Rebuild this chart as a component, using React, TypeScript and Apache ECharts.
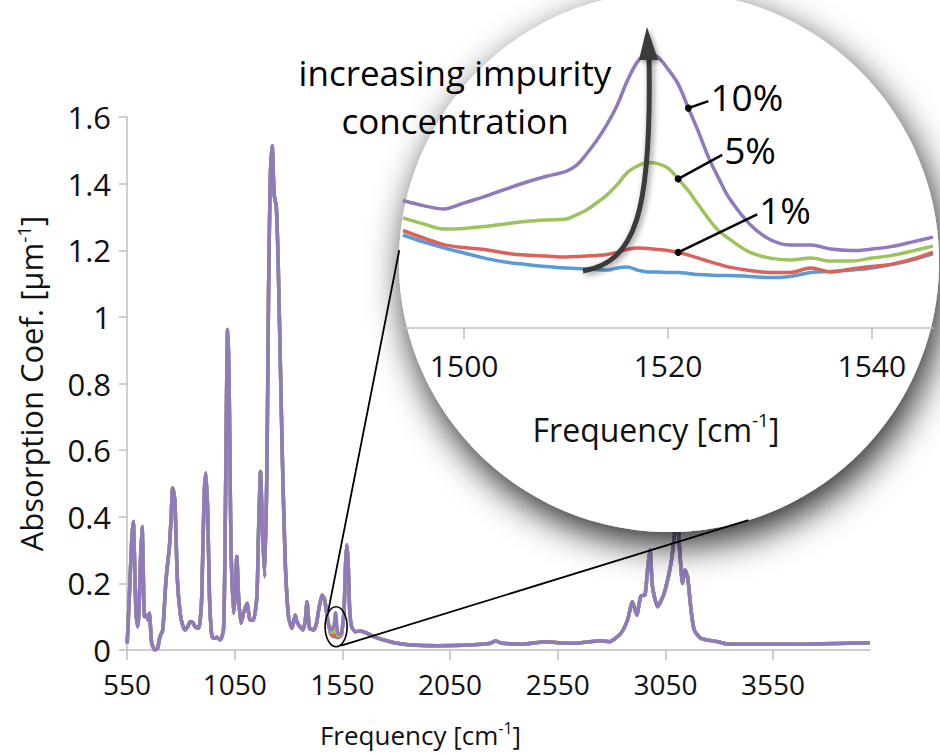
import React, { useEffect, useRef } from "react";
import * as echarts from "echarts";

// ---------- data ----------
const seriesNames = ["0%", "1%", "5%", "10%"];
const seriesColors = ["#5b9bd5", "#d9625a", "#9dc35b", "#9179bd"];

const mainTicks = [550, 1050, 1550, 2050, 2550, 3050, 3550];
const insetTicks = [1500, 1520, 1540];

// main spectrum below the magnified window
const preFreq = [551, 558, 564, 572, 579, 586, 592, 600, 606, 612, 620, 626, 631, 641, 648, 654, 660, 665, 680, 692, 703, 716, 731, 747, 755, 762, 768, 773, 784, 797, 808, 820, 832, 843, 852, 866, 882, 890, 897, 908, 916, 925, 933, 944, 955, 967, 983, 998, 1005, 1010, 1017, 1022, 1026, 1030, 1034, 1044, 1052, 1060, 1068, 1079, 1091, 1107, 1122, 1137, 1153, 1161, 1170, 1179, 1189, 1200, 1207, 1215, 1224, 1230, 1234, 1243, 1252, 1262, 1272, 1285, 1300, 1316, 1331, 1339, 1347, 1367, 1378, 1386, 1392, 1398, 1417, 1430, 1440, 1456, 1468, 1482, 1490];
const preAbs = [0.02, 0.12, 0.21, 0.33, 0.386, 0.25, 0.11, 0.07, 0.12, 0.26, 0.371, 0.22, 0.10, 0.105, 0.09, 0.11, 0.06, 0.02, 0.0, 0.005, 0.04, 0.06, 0.21, 0.31, 0.40, 0.486, 0.47, 0.44, 0.21, 0.11, 0.075, 0.06, 0.07, 0.085, 0.085, 0.07, 0.065, 0.09, 0.16, 0.46, 0.531, 0.41, 0.16, 0.04, 0.035, 0.038, 0.03, 0.06, 0.30, 0.62, 0.962, 0.88, 0.70, 0.45, 0.28, 0.11, 0.16, 0.281, 0.16, 0.08, 0.11, 0.14, 0.09, 0.09, 0.16, 0.36, 0.536, 0.36, 0.22, 0.56, 1.06, 1.41, 1.514, 1.42, 1.363, 1.333, 1.163, 0.862, 0.56, 0.26, 0.10, 0.065, 0.105, 0.085, 0.075, 0.06, 0.09, 0.145, 0.10, 0.065, 0.06, 0.08, 0.12, 0.165, 0.15, 0.09, 0.065];

// main spectrum above the magnified window
const postFreq = [1550, 1558, 1565, 1571, 1577, 1584, 1593, 1610, 1634, 1665, 1696, 1742, 1804, 1866, 1990, 2145, 2238, 2261, 2290, 2400, 2490, 2550, 2626, 2750, 2789, 2843, 2874, 2897, 2917, 2936, 2955, 2967, 2979, 2990, 3014, 3044, 3076, 3091, 3100, 3108, 3115, 3130, 3141, 3153, 3169, 3184, 3215, 3293, 3339, 3556, 3711, 4000];
const postAbs = [0.065, 0.12, 0.26, 0.316, 0.26, 0.12, 0.07, 0.055, 0.057, 0.05, 0.04, 0.03, 0.02, 0.015, 0.013, 0.015, 0.02, 0.028, 0.02, 0.018, 0.025, 0.022, 0.02, 0.028, 0.025, 0.05, 0.09, 0.145, 0.105, 0.162, 0.165, 0.24, 0.30, 0.19, 0.13, 0.17, 0.26, 0.34, 0.40, 0.38, 0.31, 0.20, 0.24, 0.22, 0.12, 0.06, 0.035, 0.025, 0.018, 0.017, 0.018, 0.022];

// magnified window (1494 - 1546 cm-1)
const insetFreq = [1494, 1496, 1498, 1500, 1502, 1504, 1506, 1508, 1510, 1511, 1512, 1513, 1514, 1515, 1516, 1517, 1518, 1519, 1520, 1521, 1522, 1523, 1524, 1525, 1526, 1528, 1530, 1532, 1534, 1536, 1538, 1540, 1542, 1544, 1546];
const insetPure = [0.0510, 0.0487, 0.0467, 0.0450, 0.0433, 0.0420, 0.0412, 0.0405, 0.0400, 0.0398, 0.0397, 0.0395, 0.0393, 0.0400, 0.0403, 0.0393, 0.0387, 0.0387, 0.0385, 0.0385, 0.0382, 0.0378, 0.0377, 0.0375, 0.0375, 0.0372, 0.0368, 0.0372, 0.0385, 0.0388, 0.0393, 0.0400, 0.0412, 0.0427, 0.0448];
const inset1 = [0.0525, 0.0500, 0.0478, 0.0468, 0.0462, 0.0450, 0.0443, 0.0440, 0.0437, 0.0438, 0.0440, 0.0442, 0.0445, 0.0452, 0.0462, 0.0467, 0.0465, 0.0462, 0.0458, 0.0452, 0.0443, 0.0433, 0.0422, 0.0412, 0.0403, 0.0392, 0.0385, 0.0385, 0.0400, 0.0387, 0.0397, 0.0405, 0.0413, 0.0430, 0.0453];
const inset5 = [0.0567, 0.0547, 0.0530, 0.0532, 0.0538, 0.0547, 0.0555, 0.0560, 0.0563, 0.0577, 0.0593, 0.0617, 0.0643, 0.0677, 0.0718, 0.0740, 0.0752, 0.0748, 0.0733, 0.0697, 0.0657, 0.0610, 0.0563, 0.0523, 0.0497, 0.0453, 0.0433, 0.0427, 0.0433, 0.0423, 0.0423, 0.0433, 0.0442, 0.0457, 0.0473];
const inset10 = [0.0625, 0.0608, 0.0597, 0.0617, 0.0638, 0.0662, 0.0685, 0.0705, 0.0722, 0.0742, 0.0780, 0.0825, 0.0878, 0.0942, 0.1023, 0.1087, 0.1115, 0.1103, 0.1063, 0.1013, 0.0933, 0.0853, 0.0767, 0.0697, 0.0633, 0.0547, 0.0495, 0.0477, 0.0477, 0.0463, 0.0458, 0.0463, 0.0472, 0.0487, 0.0503];
const insetSets = [insetPure, inset1, inset5, inset10];

// annotation anchors on the magnified curves: [series index, frequency]
const leaderAnchors = [
  { label: "10%", series: 3, freq: 1522, dx: 20, dy: -7 },
  { label: "5%", series: 2, freq: 1521, dx: 44, dy: -24 },
  { label: "1%", series: 1, freq: 1521, dx: 79, dy: -38 },
];

const MAIN_FONT = "'Open Sans', 'Noto Sans', 'DejaVu Sans', sans-serif";
const INSET_FONT = "'Open Sans', 'Noto Sans', 'DejaVu Sans', sans-serif";

function pairs(xs: number[], ys: number[]) {
  return xs.map((x, i) => [x, ys[i]]);
}

const plain = (v: number) => String(v);

export default function App() {
  const ref = useRef<HTMLDivElement>(null);

  useEffect(() => {
    if (!ref.current) return;
    const chart = echarts.init(ref.current, undefined, { renderer: "svg" });

    const mainSeries = seriesNames.map((name, k) => ({
      name,
      type: "line",
      xAxisIndex: 0,
      yAxisIndex: 0,
      data: [
        ...pairs(preFreq, preAbs),
        ...pairs(insetFreq, insetSets[k]),
        ...pairs(postFreq, postAbs),
      ],
      showSymbol: false,
      smooth: 0.2,
      lineStyle: { color: seriesColors[k], width: 3.5 },
      itemStyle: { color: seriesColors[k] },
      z: 2,
    }));

    const insetSeries = seriesNames.map((name, k) => ({
      name: name + " (zoom)",
      type: "line",
      xAxisIndex: 1,
      yAxisIndex: 1,
      data: pairs(insetFreq, insetSets[k]),
      showSymbol: false,
      smooth: 0.35,
      lineStyle: { color: seriesColors[k], width: 3.5 },
      itemStyle: { color: seriesColors[k] },
      z: 26,
    }));

    const axisGray = "#bfbfbf";

    const option: any = {
      animation: false,
      backgroundColor: "#ffffff",
      grid: [
        { left: 127, right: 70, top: 117, bottom: 105, outerBoundsMode: "none", containLabel: false },
        { left: 403, width: 530, top: 28, height: 300, outerBoundsMode: "none", containLabel: false, z: 20 },
      ],
      xAxis: [
        {
          type: "value",
          gridIndex: 0,
          min: 550,
          max: 4000,
          axisLine: { show: true, onZero: false, lineStyle: { color: axisGray, width: 1.5 } },
          axisTick: { show: true, length: 10, customValues: mainTicks, lineStyle: { color: axisGray, width: 1.5 } },
          axisLabel: { customValues: mainTicks, formatter: plain, fontSize: 28, color: "#111", margin: 20, fontFamily: MAIN_FONT },
          splitLine: { show: false },
          name: "Frequency [cm{sup|-1}]",
          nameLocation: "middle",
          nameGap: 70,
          nameMoveOverlap: false,
          nameTextStyle: {
            fontSize: 26,
            color: "#111",
            fontFamily: MAIN_FONT,
            lineHeight: 30,
            padding: [0, 156, 0, 0],
            rich: { sup: { fontSize: 16, fontFamily: MAIN_FONT, color: "#111", verticalAlign: "top", lineHeight: 18 } },
          },
        },
        {
          type: "value",
          gridIndex: 1,
          min: 1494,
          max: 1546,
          z: 25,
          axisLine: { show: true, onZero: false, lineStyle: { color: axisGray, width: 1.5 } },
          axisTick: { show: true, length: 11, customValues: insetTicks, lineStyle: { color: axisGray, width: 1.5 } },
          axisLabel: { customValues: insetTicks, formatter: plain, fontSize: 30, color: "#111", margin: 22, fontFamily: INSET_FONT },
          splitLine: { show: false },
          name: "Frequency [cm{sup|-1}]",
          nameLocation: "middle",
          nameGap: 82,
          nameMoveOverlap: false,
          nameTextStyle: {
            fontSize: 32,
            color: "#111",
            fontFamily: INSET_FONT,
            lineHeight: 38,
            padding: [0, 24, 0, 0],
            rich: { sup: { fontSize: 19, fontFamily: INSET_FONT, color: "#111", verticalAlign: "top", lineHeight: 22 } },
          },
        },
      ],
      yAxis: [
        {
          type: "value",
          gridIndex: 0,
          min: 0,
          max: 1.6,
          interval: 0.2,
          axisLine: { show: true, onZero: false, lineStyle: { color: axisGray, width: 1.5 } },
          axisTick: { show: true, length: 8, lineStyle: { color: axisGray, width: 1.5 } },
          axisLabel: { formatter: plain, fontSize: 31, color: "#111", margin: 16, fontFamily: MAIN_FONT },
          splitLine: { show: false },
          name: "Absorption Coef. [μm{sup|-1}]",
          nameLocation: "middle",
          nameGap: 79,
          nameMoveOverlap: false,
          nameTextStyle: {
            fontSize: 31,
            color: "#111",
            fontFamily: MAIN_FONT,
            lineHeight: 34,
            rich: { sup: { fontSize: 19, fontFamily: MAIN_FONT, color: "#111", verticalAlign: "top", lineHeight: 22 } },
          },
        },
        {
          type: "value",
          gridIndex: 1,
          min: 0.02,
          max: 0.12,
          show: false,
          splitLine: { show: false },
        },
      ],
      series: [...mainSeries, ...insetSeries],
    };

    chart.setOption(option);

    // magnifier geometry (annotation layout)
    const cx = 669;
    const cy = 262;
    const r = 270;
    const onCircle = (deg: number) => {
      const a = (deg * Math.PI) / 180;
      return [cx + r * Math.cos(a), cy + r * Math.sin(a)];
    };

    // small ellipse around the 1520 cm-1 feature, located through the main axes
    const ell = chart.convertToPixel({ gridIndex: 0 }, [1521, 0.07]) as number[];
    const p1 = onCircle(182.5);
    const p2 = onCircle(72.9);

    const graphics: any[] = [
      {
        type: "line",
        z: 12,
        shape: { x1: ell[0] - 8, y1: ell[1] - 15, x2: p1[0], y2: p1[1] },
        style: { stroke: "#000", lineWidth: 1.8 },
      },
      {
        type: "line",
        z: 12,
        shape: { x1: ell[0] + 5, y1: ell[1] + 19, x2: p2[0], y2: p2[1] },
        style: { stroke: "#000", lineWidth: 1.8 },
      },
      {
        type: "ellipse",
        z: 12,
        shape: { cx: ell[0], cy: ell[1], rx: 11, ry: 20 },
        style: { fill: "none", stroke: "#000", lineWidth: 1.6 },
      },
      {
        type: "circle",
        z: 10,
        shape: { cx, cy, r },
        style: {
          fill: "#ffffff",
          shadowBlur: 36,
          shadowColor: "rgba(0,0,0,0.85)",
          shadowOffsetX: 5,
          shadowOffsetY: 13,
        },
      },
      {
        type: "text",
        z: 30,
        style: {
          text: "increasing impurity\nconcentration",
          x: 455,
          y: 96,
          align: "center",
          verticalAlign: "middle",
          fontSize: 35,
          lineHeight: 48,
          fontFamily: INSET_FONT,
          fill: "#000",
        },
      },
      {
        type: "bezierCurve",
        z: 30,
        shape: { x1: 583, y1: 271, cpx1: 635, cpy1: 262, cpx2: 652, cpy2: 215, x2: 649, y2: 56 },
        style: {
          stroke: "#3a3a3a",
          lineWidth: 5,
          fill: "none",
          shadowBlur: 6,
          shadowColor: "rgba(0,0,0,0.45)",
          shadowOffsetX: 2,
          shadowOffsetY: 2,
        },
      },
      {
        type: "polygon",
        z: 30,
        shape: { points: [[639, 60], [658, 60], [647, 27]] },
        style: { fill: "#3a3a3a", shadowBlur: 5, shadowColor: "rgba(0,0,0,0.4)", shadowOffsetX: 2, shadowOffsetY: 2 },
      },
    ];

    leaderAnchors.forEach((a) => {
      const idx = insetFreq.indexOf(a.freq);
      const val = insetSets[a.series][idx];
      const p = chart.convertToPixel({ gridIndex: 1 }, [a.freq, val]) as number[];
      const ex = p[0] + a.dx;
      const ey = p[1] + a.dy;
      graphics.push(
        { type: "line", z: 31, shape: { x1: p[0], y1: p[1], x2: ex, y2: ey }, style: { stroke: "#000", lineWidth: 2.5 } },
        { type: "circle", z: 31, shape: { cx: p[0], cy: p[1], r: 3.5 }, style: { fill: "#000" } },
        {
          type: "text",
          z: 31,
          style: {
            text: a.label,
            x: ex + 2,
            y: ey - 5,
            align: "left",
            verticalAlign: "middle",
            fontSize: 37,
            fontFamily: INSET_FONT,
            fill: "#000",
          },
        }
      );
    });

    chart.setOption({ graphic: graphics });

    return () => {
      chart.dispose();
    };
  }, []);

  return (
    <div
      ref={ref}
      style={{ position: "fixed", left: 0, top: 0, width: 940, height: 755, background: "#fff" }}
    />
  );
}
